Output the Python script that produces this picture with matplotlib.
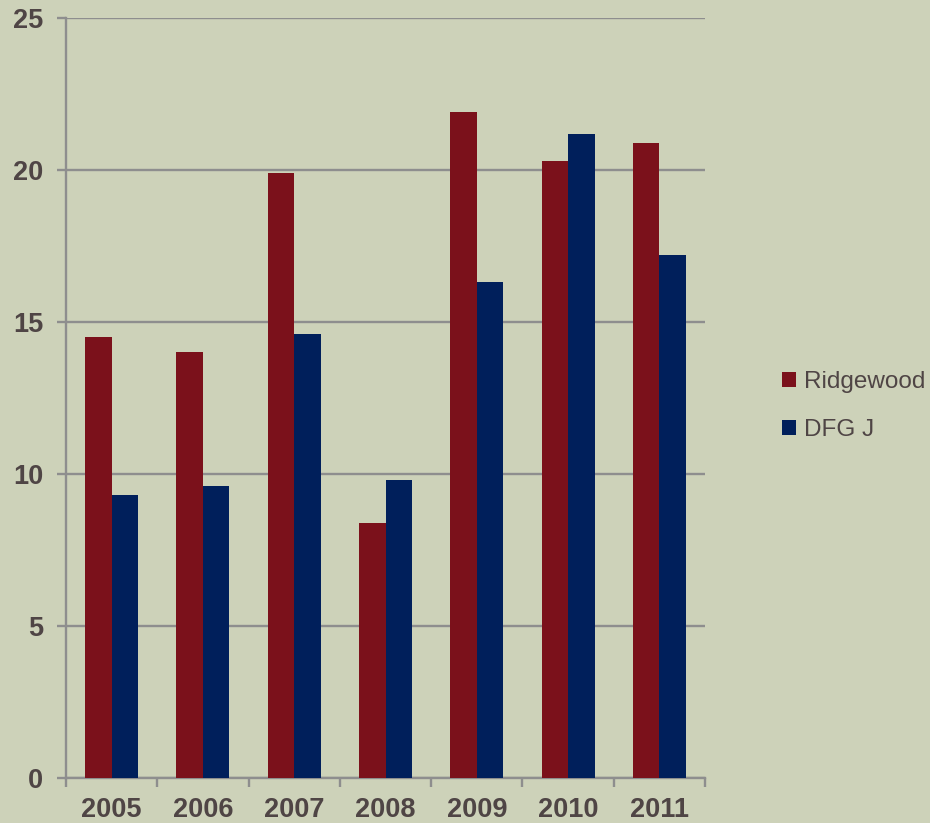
import matplotlib
matplotlib.use("Agg")
import matplotlib.pyplot as plt
import numpy as np
from matplotlib.patches import Patch

years = ["2005", "2006", "2007", "2008", "2009", "2010", "2011"]
ridgewood = [14.5, 14.0, 19.9, 8.4, 21.9, 20.3, 20.9]
dfgj = [9.3, 9.6, 14.6, 9.8, 16.3, 21.2, 17.2]
series_names = ["Ridgewood", "DFG J"]
yticks = [0, 5, 10, 15, 20, 25]

bg = "#cdd2b9"
red = "#7b111b"
blue = "#001f5b"
txt = "#4f4545"
grid = "#8e8e8e"

plt.rcParams['font.family'] = ['Liberation Sans', 'DejaVu Sans']

fig = plt.figure(figsize=(9.3, 8.23), dpi=100, facecolor=bg)
ax = fig.add_axes([66/930, 45/823, (705-66)/930, (778-18)/823])
ax.set_facecolor(bg)

x = np.arange(len(years))
w = 0.29
ax.bar(x - w/2, ridgewood, w, color=red, zorder=3, label=series_names[0])
ax.bar(x + w/2, dfgj, w, color=blue, zorder=3, label=series_names[1])

ax.set_xlim(-0.5, len(years) - 0.5)
ax.set_ylim(0, 25)
ax.set_yticks(yticks)
ax.set_yticklabels([str(t) for t in yticks])
ax.yaxis.grid(True, color=grid, linewidth=1.7, zorder=0)
ax.set_axisbelow(True)

for s in ["top", "right"]:
    ax.spines[s].set_visible(False)
for s in ["left", "bottom"]:
    ax.spines[s].set_color(grid)
    ax.spines[s].set_linewidth(1.7)

ax.tick_params(axis='y', length=6.5, width=1.7, color=grid, pad=10,
               labelsize=19.5, labelcolor=txt)
for lbl in ax.get_yticklabels():
    lbl.set_fontweight('bold')

ax.set_xticks(x)
ax.set_xticklabels(years)
ax.set_xticks(np.arange(-0.5, len(years)), minor=True)
ax.tick_params(axis='x', which='major', length=0, pad=14, labelsize=19.5, labelcolor=txt)
ax.tick_params(axis='x', which='minor', length=6.5, width=1.7, color=grid)
for lbl in ax.get_xticklabels():
    lbl.set_fontweight('bold')

handles = [Patch(facecolor=red), Patch(facecolor=blue)]
fig.legend(handles, series_names, loc='center left',
           bbox_to_anchor=(782/930, (823-406)/823), frameon=False,
           fontsize=17.5, handlelength=0.57, handleheight=0.57,
           handletextpad=0.35, labelspacing=1.05, borderpad=0, borderaxespad=0,
           labelcolor=txt)

fig.savefig("out.png", dpi=100, facecolor=bg)
